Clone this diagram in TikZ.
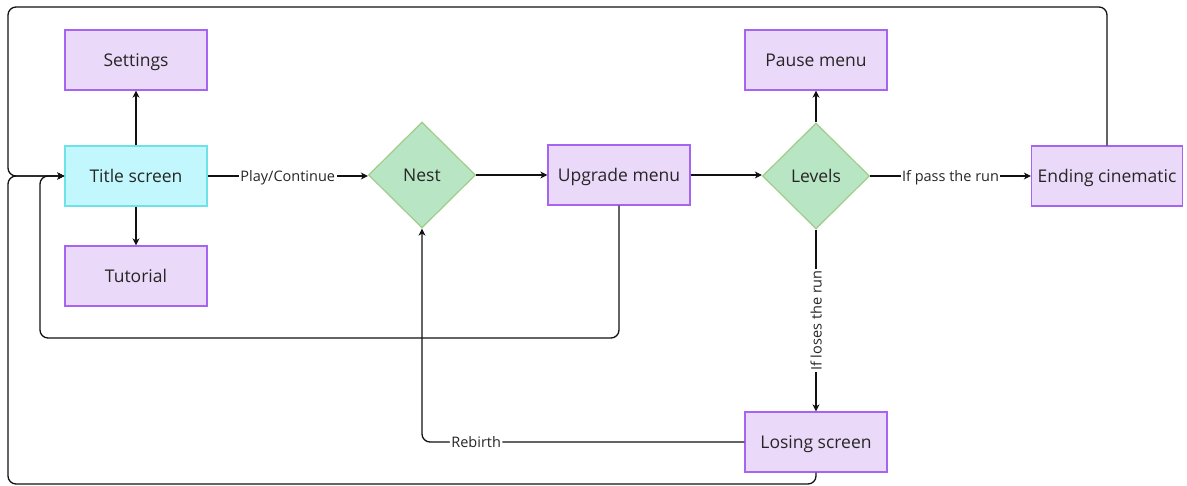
\documentclass[tikz,border=0pt]{standalone}
\usepackage{fontspec}
\setmainfont{Open Sans}
\usetikzlibrary{shapes.geometric,arrows.meta}
\definecolor{boxfill}{HTML}{EAD9F8}
\definecolor{boxline}{HTML}{A665F0}
\definecolor{startfill}{HTML}{C2F8FD}
\definecolor{startline}{HTML}{6DE2E9}
\definecolor{decfill}{HTML}{B8E6C4}
\definecolor{decline}{HTML}{9FCC87}
\definecolor{wire}{HTML}{111111}
\tikzset{
  screen/.style={draw=boxline, fill=boxfill, line width=1.2pt, minimum width=142pt, minimum height=60pt, inner sep=2pt, text height=13pt, text depth=0pt, font=\fontsize{17.5}{20}\selectfont, text=black!85},
  startbox/.style={screen, draw=startline, fill=startfill},
  choice/.style={diamond, draw=decline, fill=decfill, line width=1.2pt, minimum width=107pt, minimum height=106pt, inner sep=0pt, text height=13pt, text depth=0pt, font=\fontsize{17.5}{20}\selectfont, text=black!85},
  arr/.style={draw=wire, line width=1.3pt, -{Stealth[length=7pt,width=7pt,inset=2pt]}},
  lbl/.style={fill=white, inner sep=1.5pt, text height=11pt, text depth=0pt, font=\fontsize{14.5}{16}\selectfont, text=black!85},
  loopline/.style={rounded corners=8pt}
}
\begin{document}
\begin{tikzpicture}[x=1pt,y=-1pt]
\useasboundingbox (0,0) rectangle (1187,486);
% screens and decisions
\node[screen]   (settings) at (136,60)  {Settings};
\node[startbox] (title)    at (136,176) {Title screen};
\node[screen]   (tutorial) at (136,276) {Tutorial};
\node[choice]   (nest)     at (422,175) {Nest};
\node[screen]   (upgrade)  at (619,175) {Upgrade menu};
\node[choice]   (levels)   at (816,176) {Levels};
\node[screen]   (pause)    at (816,60)  {Pause menu};
\node[screen, minimum width=151pt] (ending) at (1107,176) {Ending cinematic};
\node[screen]   (losing)   at (816,442) {Losing screen};
% routing points for the return loops
\coordinate (topleft)  at (8,7);
\coordinate (midleft)  at (40,338);
\coordinate (lowleft)  at (8,484);
% straight connectors
\draw[arr] (title) -- (settings);
\draw[arr] (title) -- (tutorial);
\draw[arr] (title.east) -- node[lbl]{Play/Continue} (title.east -| nest.west);
\draw[arr] (nest.east) -- (nest.east -| upgrade.west);
\draw[arr] (upgrade.east) -- (upgrade.east -| levels.west);
\draw[arr] (levels) -- (pause);
\draw[arr] (levels) -- node[lbl]{If pass the run} (ending);
\draw[arr] (levels) -- node[lbl, rotate=90]{If loses the run} (losing);
% return loops
\draw[arr, loopline] (ending.north) |- (topleft) |- (title.west);
\draw[arr, loopline] (upgrade.south) |- (midleft) |- (title.west);
\draw[arr, loopline] (losing.south) |- (lowleft) |- (title.west);
\draw[arr, loopline] (losing.west) -| node[lbl, pos=0.416]{Rebirth} (nest.south);
\end{tikzpicture}
\end{document}
